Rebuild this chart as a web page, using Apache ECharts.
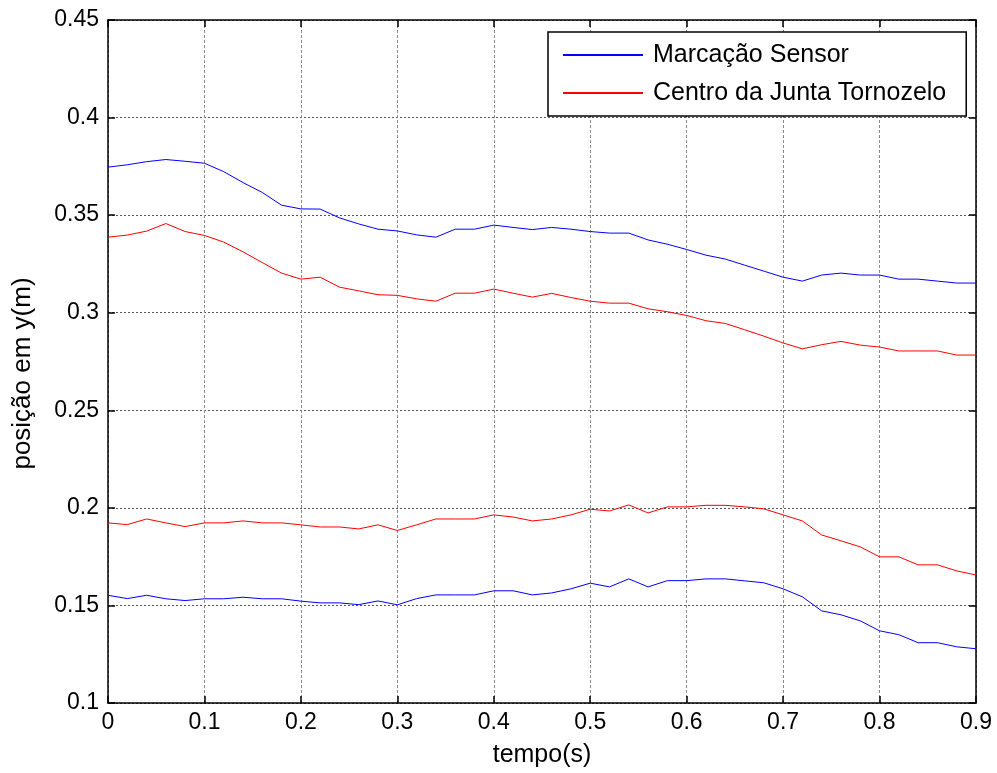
<!DOCTYPE html>
<html>
<head>
<meta charset="utf-8">
<script src="https://cdn.jsdelivr.net/npm/echarts@6/dist/echarts.min.js"></script>
<style>
  html, body { margin: 0; padding: 0; background: #fff; }
  #chart { width: 997px; height: 773px; }
</style>
</head>
<body>
<div id="chart"></div>
<script>
// Sample times (s)
const tempo = [0, 0.02, 0.04, 0.06, 0.08, 0.1, 0.12, 0.14, 0.16, 0.18,
  0.2, 0.22, 0.24, 0.26, 0.28, 0.3, 0.32, 0.34, 0.36, 0.38,
  0.4, 0.42, 0.44, 0.46, 0.48, 0.5, 0.52, 0.54, 0.56, 0.58,
  0.6, 0.62, 0.64, 0.66, 0.68, 0.7, 0.72, 0.74, 0.76, 0.78,
  0.8, 0.82, 0.84, 0.86, 0.88, 0.9];

// Marker positions (upper and lower markers)
const sensorSuperior = [0.3746, 0.3758, 0.3774, 0.3785, 0.3776, 0.3766, 0.3723, 0.3667, 0.3616, 0.3551,
  0.3532, 0.3531, 0.3486, 0.3455, 0.3428, 0.3419, 0.3399, 0.3387, 0.3428, 0.3428,
  0.3449, 0.3437, 0.3426, 0.3437, 0.3428, 0.3416, 0.3408, 0.3408, 0.3373, 0.3351,
  0.3324, 0.3295, 0.3275, 0.3244, 0.3213, 0.3182, 0.3162, 0.3193, 0.3203, 0.3193,
  0.3193, 0.3172, 0.3172, 0.3162, 0.3152, 0.3152];
const sensorInferior = [0.1552, 0.1535, 0.1552, 0.1534, 0.1525, 0.1534, 0.1534, 0.1542, 0.1534, 0.1534,
  0.1522, 0.1513, 0.1513, 0.1504, 0.1523, 0.1503, 0.1535, 0.1554, 0.1554, 0.1554,
  0.1575, 0.1575, 0.1554, 0.1564, 0.1585, 0.1614, 0.1595, 0.1636, 0.1595, 0.1627,
  0.1627, 0.1636, 0.1636, 0.1626, 0.1616, 0.1585, 0.1544, 0.1472, 0.1452, 0.1421,
  0.1370, 0.1350, 0.1309, 0.1309, 0.1288, 0.1278];

// Ankle joint centre positions
const juntaSuperior = [0.3387, 0.3398, 0.3418, 0.3457, 0.3416, 0.3396, 0.3362, 0.3312, 0.3257, 0.3203,
  0.3172, 0.3182, 0.3131, 0.3112, 0.3092, 0.3089, 0.3071, 0.3059, 0.3100, 0.3100,
  0.3121, 0.3100, 0.3080, 0.3099, 0.3078, 0.3059, 0.3049, 0.3049, 0.3020, 0.3005,
  0.2986, 0.2959, 0.2945, 0.2913, 0.2880, 0.2845, 0.2815, 0.2836, 0.2853, 0.2834,
  0.2824, 0.2804, 0.2804, 0.2804, 0.2783, 0.2783];
const juntaInferior = [0.1923, 0.1914, 0.1943, 0.1923, 0.1904, 0.1923, 0.1923, 0.1933, 0.1923, 0.1923,
  0.1913, 0.1902, 0.1902, 0.1892, 0.1913, 0.1884, 0.1913, 0.1943, 0.1943, 0.1943,
  0.1964, 0.1953, 0.1933, 0.1943, 0.1964, 0.1993, 0.1984, 0.2015, 0.1974, 0.2005,
  0.2005, 0.2013, 0.2013, 0.2005, 0.1995, 0.1964, 0.1933, 0.1861, 0.1831, 0.1800,
  0.1749, 0.1749, 0.1708, 0.1708, 0.1677, 0.1656];

const nomeSensor = 'Marcação Sensor';
const nomeJunta = 'Centro da Junta Tornozelo';

const FONT = 'Liberation Sans, Arial, sans-serif';

function pares(ys) {
  return tempo.map((t, i) => [t, ys[i]]);
}
function fmt(v) {
  return String(parseFloat(v.toFixed(2)));
}

function linha(name, color, ys) {
  return {
    name: name,
    type: 'line',
    data: pares(ys),
    showSymbol: false,
    symbol: 'none',
    animation: false,
    lineStyle: { color: color, width: 1 },
    itemStyle: { color: color },
    emphasis: { disabled: true }
  };
}

const axisLine = { show: true, onZero: false, lineStyle: { color: '#000', width: 1.5 } };
const axisTick = { show: true, inside: true, length: 7, lineStyle: { color: '#000', width: 1.5 } };

const chart = echarts.init(document.getElementById('chart'), null, { renderer: 'canvas' });
chart.setOption({
  backgroundColor: '#fff',
  animation: false,
  textStyle: { fontFamily: FONT },
  grid: { left: 108, right: 21, top: 20, bottom: 70, containLabel: false },
  legend: {
    data: [nomeSensor, nomeJunta],
    orient: 'vertical',
    left: 548,
    top: 32,
    padding: [10, 20, 10, 15],
    itemWidth: 80,
    itemHeight: 2,
    itemGap: 12,
    icon: 'rect',
    borderColor: '#000',
    borderWidth: 1.5,
    backgroundColor: '#fff',
    selectedMode: false,
    textStyle: { fontSize: 25, color: '#000', fontFamily: FONT, padding: [0, 0, 0, 5], lineHeight: 26 }
  },
  xAxis: [{
    type: 'value',
    min: 0, max: 0.9, interval: 0.1,
    name: 'tempo(s)',
    nameLocation: 'middle',
    nameGap: 40,
    nameTextStyle: { fontSize: 25, color: '#000', fontFamily: FONT },
    axisLine: axisLine,
    axisTick: axisTick,
    axisLabel: { fontSize: 23, color: '#000', margin: 8, fontFamily: FONT, formatter: fmt },
    splitLine: { show: true, lineStyle: { color: '#8c8c8c', width: 1, type: [3, 2] } }
  }, {
    type: 'value',
    position: 'top',
    min: 0, max: 0.9, interval: 0.1,
    axisLine: axisLine,
    axisTick: axisTick,
    axisLabel: { show: false },
    splitLine: { show: false }
  }],
  yAxis: [{
    type: 'value',
    min: 0.1, max: 0.45, interval: 0.05,
    name: 'posição em y(m)',
    nameLocation: 'middle',
    nameGap: 72,
    nameTextStyle: { fontSize: 26, color: '#000', fontFamily: FONT, padding: [0, 24, 0, 0] },
    axisLine: axisLine,
    axisTick: axisTick,
    axisLabel: { fontSize: 23, color: '#000', margin: 9, fontFamily: FONT, formatter: fmt },
    splitLine: { show: true, lineStyle: { color: '#555', width: 1, type: [2, 2] } }
  }, {
    type: 'value',
    position: 'right',
    min: 0.1, max: 0.45, interval: 0.05,
    axisLine: axisLine,
    axisTick: axisTick,
    axisLabel: { show: false },
    splitLine: { show: false }
  }],
  series: [
    linha(nomeSensor, '#0000ff', sensorSuperior),
    linha(nomeJunta, '#ff0000', juntaSuperior),
    linha(nomeJunta, '#ff0000', juntaInferior),
    linha(nomeSensor, '#0000ff', sensorInferior)
  ]
});
</script>
</body>
</html>
